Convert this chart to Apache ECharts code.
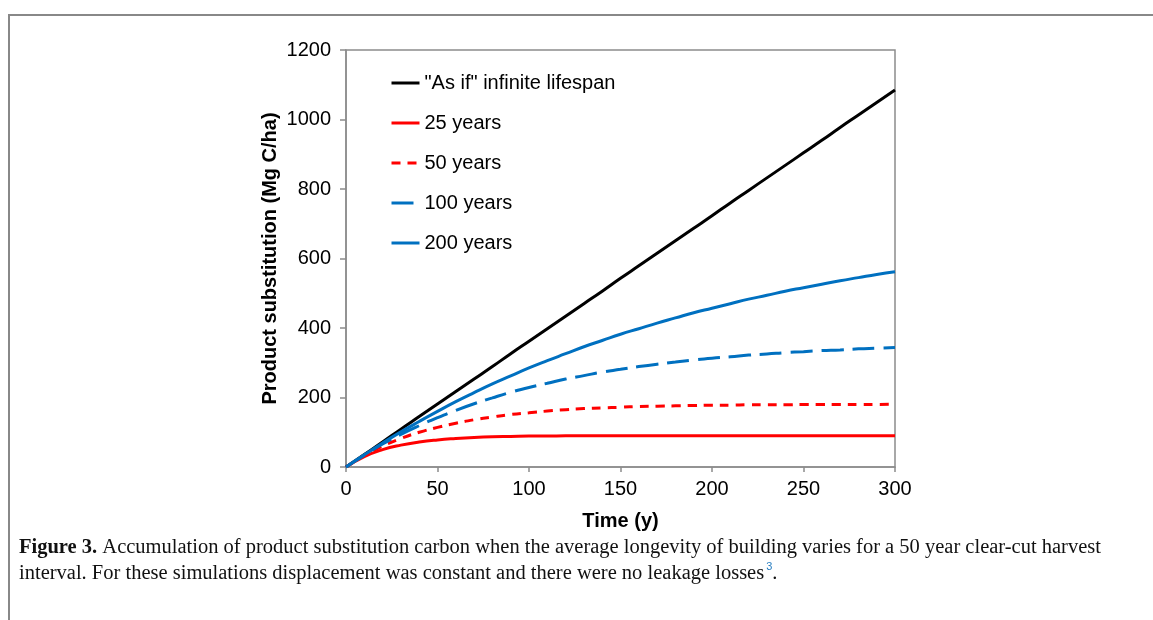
<!DOCTYPE html>
<html>
<head>
<meta charset="utf-8">
<script src="https://cdn.jsdelivr.net/npm/echarts@6/dist/echarts.min.js"></script>
<style>
html,body{margin:0;padding:0;background:#fff;}
#chart{width:1153px;height:620px;}
</style>
</head>
<body>
<div id="chart"></div>
<script>
// Time (years), every 10 years
const years = [0,10,20,30,40,50,60,70,80,90,100,110,120,130,140,150,160,170,180,190,200,210,220,230,240,250,260,270,280,290,300];
const infinite = [0,36,72,109,145,181,217,253,289,326,362,398,434,470,506,543,579,615,651,687,723,760,796,832,868,904,940,977,1013,1049,1085];
const life25 = [0,30,50,63,72,78,82,85,87,88,89,89,90,90,90,90,90,90,90,90,90,90,90,90,90,90,90,90,90,90,90];
const life50 = [0,33,60,82,100,114,126,136,144,151,156,161,165,168,170,172,174,175,176,177,178,178,179,179,179,180,180,180,180,180,181];
const life100 = [0,34,66,94,119,142,163,182,199,215,229,241,253,263,273,281,289,296,302,308,313,317,322,325,329,332,335,337,340,342,344];
const life200 = [0,35,69,101,131,160,188,214,239,262,285,306,326,346,364,382,398,414,429,444,457,470,483,494,506,516,526,536,545,554,562];
const seriesNames = ['"As if" infinite lifespan','25 years','50 years','100 years','200 years'];
const xTicks = [0,50,100,150,200,250,300];
const yTicks = [0,200,400,600,800,1000,1200];

const pair = arr => years.map((t,i)=>[t,arr[i]]);

const chart = echarts.init(document.getElementById('chart'));
const axisGrey = '#8c8c8c';
const font = 'Liberation Sans, Arial, sans-serif';
chart.setOption({
  animation:false,
  backgroundColor:'#fff',
  grid:{left:346,right:258,top:50,bottom:153,show:true,borderColor:axisGrey,borderWidth:1.5,containLabel:false},
  legend:{
    orient:'vertical',left:385,top:68,itemWidth:28,itemHeight:14,itemGap:20,
    textStyle:{fontFamily:font,fontSize:20,color:'#000'},
    itemStyle:{opacity:0},
    lineStyle:{width:3},
    data:seriesNames
  },
  xAxis:{
    type:'value',min:0,max:300,interval:50,
    name:'Time (y)',nameLocation:'middle',nameGap:44,
    nameTextStyle:{fontFamily:font,fontSize:20,fontWeight:'bold',color:'#000'},
    axisLine:{lineStyle:{color:axisGrey,width:1.5}},
    axisTick:{show:true,length:5,lineStyle:{color:axisGrey,width:1.5}},
    axisLabel:{fontFamily:font,fontSize:20,color:'#000',margin:12,formatter:v=>xTicks.includes(v)?String(v):''},
    splitLine:{show:false}
  },
  yAxis:{
    type:'value',min:0,max:1200,interval:200,
    name:'Product substitution (Mg C/ha)',nameLocation:'middle',nameGap:66,
    nameTextStyle:{fontFamily:font,fontSize:20,fontWeight:'bold',color:'#000'},
    axisLine:{show:true,lineStyle:{color:axisGrey,width:1.5}},
    axisTick:{show:true,length:6,lineStyle:{color:axisGrey,width:1.5}},
    axisLabel:{fontFamily:font,fontSize:20,color:'#000',margin:15,formatter:v=>yTicks.includes(v)?String(v):''},
    splitLine:{show:false}
  },
  series:[
    {name:seriesNames[0],type:'line',data:pair(infinite),symbol:'none',smooth:true,lineStyle:{color:'#000',width:3},itemStyle:{color:'#000'}},
    {name:seriesNames[1],type:'line',data:pair(life25),symbol:'none',smooth:true,lineStyle:{color:'#ff0000',width:3},itemStyle:{color:'#ff0000'}},
    {name:seriesNames[2],type:'line',data:pair(life50),symbol:'none',smooth:true,lineStyle:{color:'#ff0000',width:3,type:[9,7]},itemStyle:{color:'#ff0000'}},
    {name:seriesNames[3],type:'line',data:pair(life100),symbol:'none',smooth:true,lineStyle:{color:'#0070c0',width:3,type:[22,9]},itemStyle:{color:'#0070c0'}},
    {name:seriesNames[4],type:'line',data:pair(life200),symbol:'none',smooth:true,lineStyle:{color:'#0070c0',width:3},itemStyle:{color:'#0070c0'}}
  ],
  graphic:[
    {type:'line',shape:{x1:8,y1:15,x2:1153,y2:15},style:{stroke:'#888',lineWidth:2}},
    {type:'line',shape:{x1:9,y1:15,x2:9,y2:620},style:{stroke:'#888',lineWidth:2}},
    {type:'text',left:19,top:535,style:{
      text:'{b|Figure 3.} Accumulation of product substitution carbon when the average longevity of building varies for a 50 year clear-cut harvest\ninterval. For these simulations displacement was constant and there were no leakage losses{s|3}.',
      font:'20.5px "Liberation Serif", serif',fill:'#111',lineHeight:26,
      rich:{b:{fontWeight:'bold',fontFamily:'Liberation Serif',fontSize:20.5,fill:'#111'},s:{fontSize:11,fill:'#2a7fc1',verticalAlign:'top',padding:[0,0,12,2]}}
    }}
  ]
});
</script>
</body>
</html>
